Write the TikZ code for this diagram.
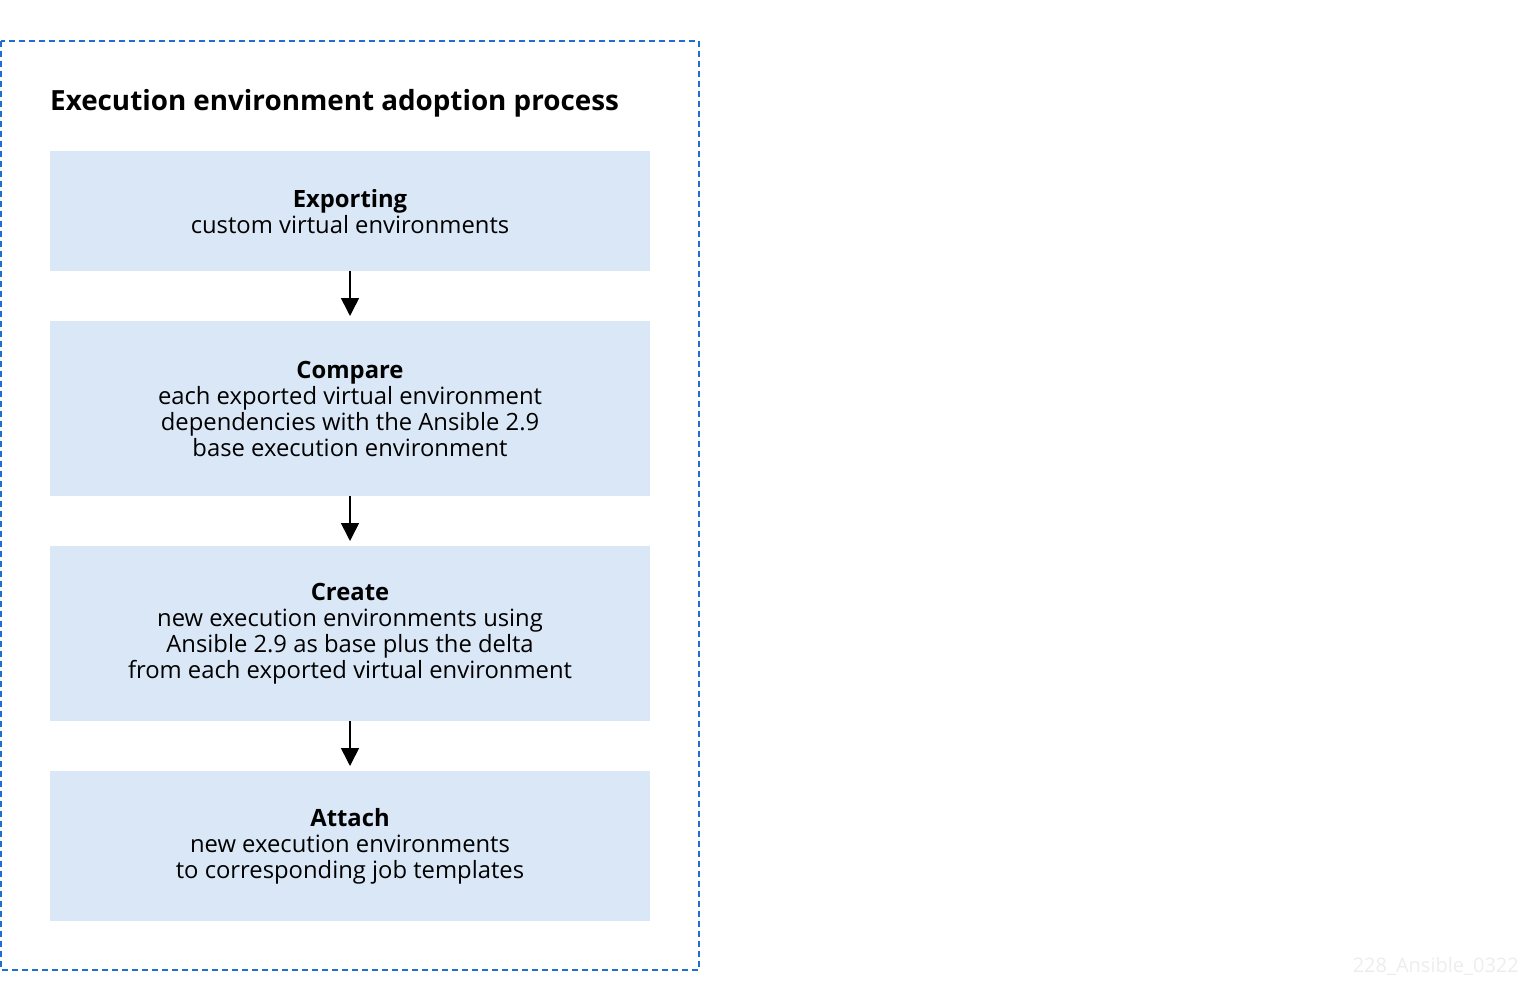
\documentclass[tikz,border=0pt]{standalone}
\usepackage{fontspec}
\setmainfont{Open Sans}
\usetikzlibrary{arrows.meta}
\definecolor{framblue}{HTML}{1F6FD0}
\definecolor{boxfill}{HTML}{DAE7F6}
\definecolor{wmgray}{HTML}{EDEDED}
\tikzset{
  stepbox/.style={fill=boxfill, draw=none, minimum width=600pt, anchor=north, align=center,
    font=\fontsize{23.8}{26}\selectfont, inner sep=0pt},
  flowarrow/.style={-{Triangle[width=18pt,length=18pt]}, line width=1.6pt, black},
}
\begin{document}
\begin{tikzpicture}[x=1pt,y=-1pt]
\useasboundingbox (0,0) rectangle (1520,1003);
\draw[framblue, line width=1.6pt, dash pattern=on 6pt off 4pt] (1,41) rectangle (699,970);
\node[anchor=base west, font=\fontsize{27.8}{32}\selectfont\bfseries, inner sep=0pt] (title) at (50,111) {Execution environment adoption process};
\node[stepbox, minimum height=120pt] (b1) at (350,151) {\textbf{Exporting}\\custom virtual environments};
\node[stepbox, minimum height=175pt] (b2) at (350,321) {\textbf{Compare}\\each exported virtual environment\\dependencies with the Ansible 2.9\\base execution environment};
\node[stepbox, minimum height=175pt] (b3) at (350,546) {\textbf{Create}\\new execution environments using\\Ansible 2.9 as base plus the delta\\from each exported virtual environment};
\node[stepbox, minimum height=150pt] (b4) at (350,771) {\textbf{Attach}\\new execution environments\\to corresponding job templates};
\draw[flowarrow, shorten >=5pt] (b1.south) -- (b2.north);
\draw[flowarrow, shorten >=5pt] (b2.south) -- (b3.north);
\draw[flowarrow, shorten >=5pt] (b3.south) -- (b4.north);
\node[anchor=base east, text=wmgray, font=\fontsize{20}{22}\selectfont, inner sep=0pt] (wm) at (1519,972) {228\_Ansible\_0322};
\end{tikzpicture}
\end{document}
